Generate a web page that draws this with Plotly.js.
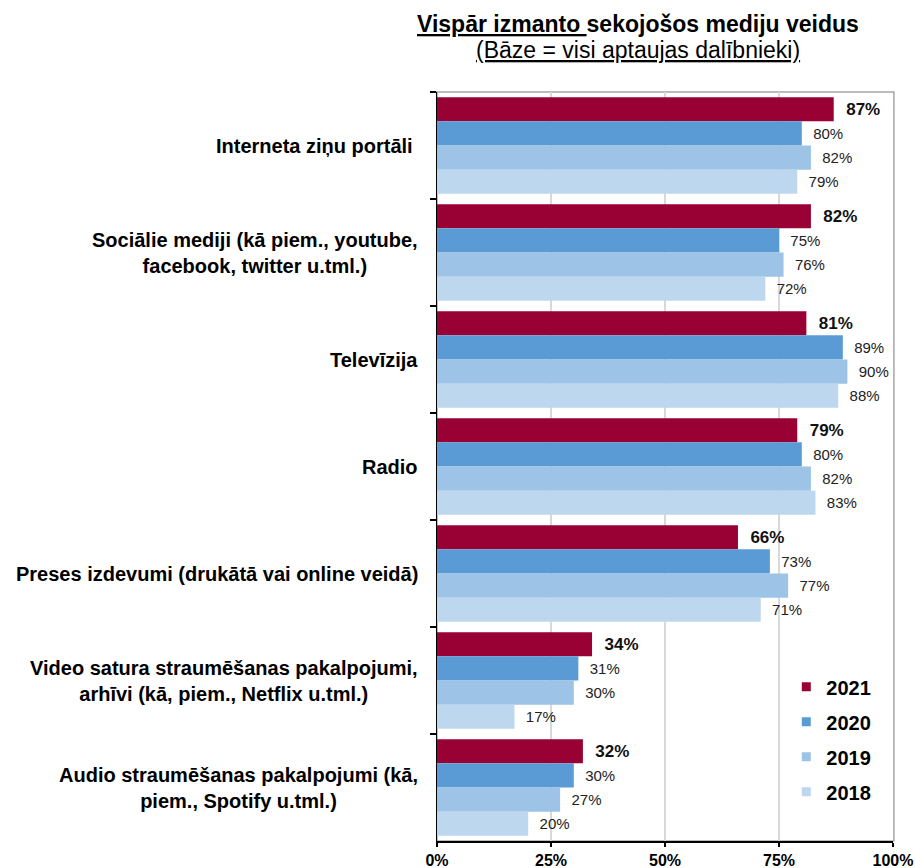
<!DOCTYPE html>
<html>
<head>
<meta charset="utf-8">
<script src="https://cdn.plot.ly/plotly-3.0.1.min.js"></script>
<style>html,body{margin:0;padding:0;background:#fff;}#chart{width:915px;height:868px;}</style>
</head>
<body>
<div id="chart"></div>
<script>
// ---- data ----
const categories = [
  "Interneta ziņu portāli\u00a0",
  "Sociālie mediji (kā piem., youtube,<br>facebook, twitter u.tml.)",
  "Televīzija",
  "Radio",
  "Preses izdevumi (drukātā vai online veidā)",
  "Video satura straumēšanas pakalpojumi,<br>arhīvi (kā, piem., Netflix u.tml.)",
  "Audio straumēšanas pakalpojumi (kā,<br>piem., Spotify u.tml.)"
];
const categoryIds = ["c1","c2","c3","c4","c5","c6","c7"];
const years = ["2021","2020","2019","2018"];
const v2021 = [87, 82, 81, 79, 66, 34, 32];
const v2020 = [80, 75, 89, 80, 73, 31, 30];
const v2019 = [82, 76, 90, 82, 77, 30, 27];
const v2018 = [79, 72, 88, 83, 71, 17, 20];
const xTickVals = [0, 25, 50, 75, 100];
const xTickText = ["0%", "25%", "50%", "75%", "100%"];
const titleText = "<b><u>Vispār izmanto </u>sekojošos mediju veidus</b>";
const subtitleText = "<u>(Bāze = visi aptaujas dalībnieki)</u>";

const seriesValues = [v2021, v2020, v2019, v2018];
const colors = ["#990033", "#5b9bd5", "#9dc3e6", "#bdd7ee"];
const FONT = "Liberation Sans, Arial, sans-serif";

const traces = [];
seriesValues.forEach((vals, i) => {
  traces.push({
    type: "bar",
    orientation: "h",
    name: years[i],
    y: categoryIds,
    x: vals,
    marker: {color: colors[i], line: {width: 0}},
    text: vals.map(v => "\u00a0\u00a0" + v + "%"),
    texttemplate: "%{text}",
    textposition: "outside",
    cliponaxis: false,
    constraintext: "none",
    textfont: i === 0
      ? {family: FONT, size: 17, color: "#111", weight: "bold"}
      : {family: FONT, size: 15, color: "#222"},
    showlegend: false,
    hoverinfo: "x+name"
  });
});
// legend entries
years.forEach((yr, i) => {
  traces.push({
    type: "scatter",
    mode: "markers",
    name: yr,
    x: [null], y: [null],
    marker: {symbol: "square", size: 9, color: colors[i]},
    legendgroup: "g" + i,
    showlegend: true,
    hoverinfo: "skip"
  });
});

const annotations = [
  {text: titleText, xref: "paper", yref: "paper", x: 0.4397, y: (841 - 24) / 749,
   xanchor: "center", yanchor: "middle", showarrow: false,
   font: {family: FONT, size: 23, color: "#000"}},
  {text: subtitleText, xref: "paper", yref: "paper", x: 0.4397, y: (841 - 50) / 749,
   xanchor: "center", yanchor: "middle", showarrow: false,
   font: {family: FONT, size: 23, color: "#000"}}
];
categories.forEach((c, i) => {
  annotations.push({
    text: "<b>" + c + "</b>", xref: "paper", yref: "y", x: 0, y: categoryIds[i],
    xanchor: "right", yanchor: "middle", xshift: -17, align: "center",
    showarrow: false, font: {family: FONT, size: 20, color: "#000"}
  });
});

const layout = {
  width: 915, height: 868,
  margin: {l: 437, r: 22, t: 92, b: 27, pad: 0},
  paper_bgcolor: "#fff", plot_bgcolor: "#fff",
  barmode: "group", bargap: 0.096, bargroupgap: 0,
  font: {family: FONT, color: "#000"},
  xaxis: {
    range: [0, 100], tickvals: xTickVals, ticktext: xTickText,
    showgrid: true, gridcolor: "#d9d9d9", gridwidth: 1.5,
    showline: true, linecolor: "#000", linewidth: 1.5,
    ticks: "outside", ticklen: 4, tickcolor: "#000", tickwidth: 1.5,
    tickfont: {family: FONT, size: 16, color: "#000", weight: "bold"},
    zeroline: false, fixedrange: true
  },
  yaxis: {
    type: "category", categoryorder: "array", categoryarray: categoryIds,
    range: [6.5, -0.5], autorange: false,
    showticklabels: false, showgrid: false, zeroline: false,
    showline: true, linecolor: "#000", linewidth: 1.5,
    ticks: "outside", tickson: "boundaries", ticklen: 6, tickcolor: "#000", tickwidth: 1.5,
    fixedrange: true
  },
  shapes: [{type: "rect", xref: "paper", yref: "paper", x0: 0, x1: 1.002, y0: 0, y1: 1,
            line: {color: "#a6a6a6", width: 1.5}, layer: "below"}],
  legend: {
    x: 0.766, y: 0.232, xanchor: "left", yanchor: "top",
    bgcolor: "rgba(0,0,0,0)", borderwidth: 0,
    font: {family: FONT, size: 20, color: "#000", weight: "bold"},
    traceorder: "grouped", tracegroupgap: 6
  },
  annotations: annotations,
  showlegend: true
};

Plotly.newPlot("chart", traces, layout, {displayModeBar: false, staticPlot: true});
</script>
</body>
</html>
